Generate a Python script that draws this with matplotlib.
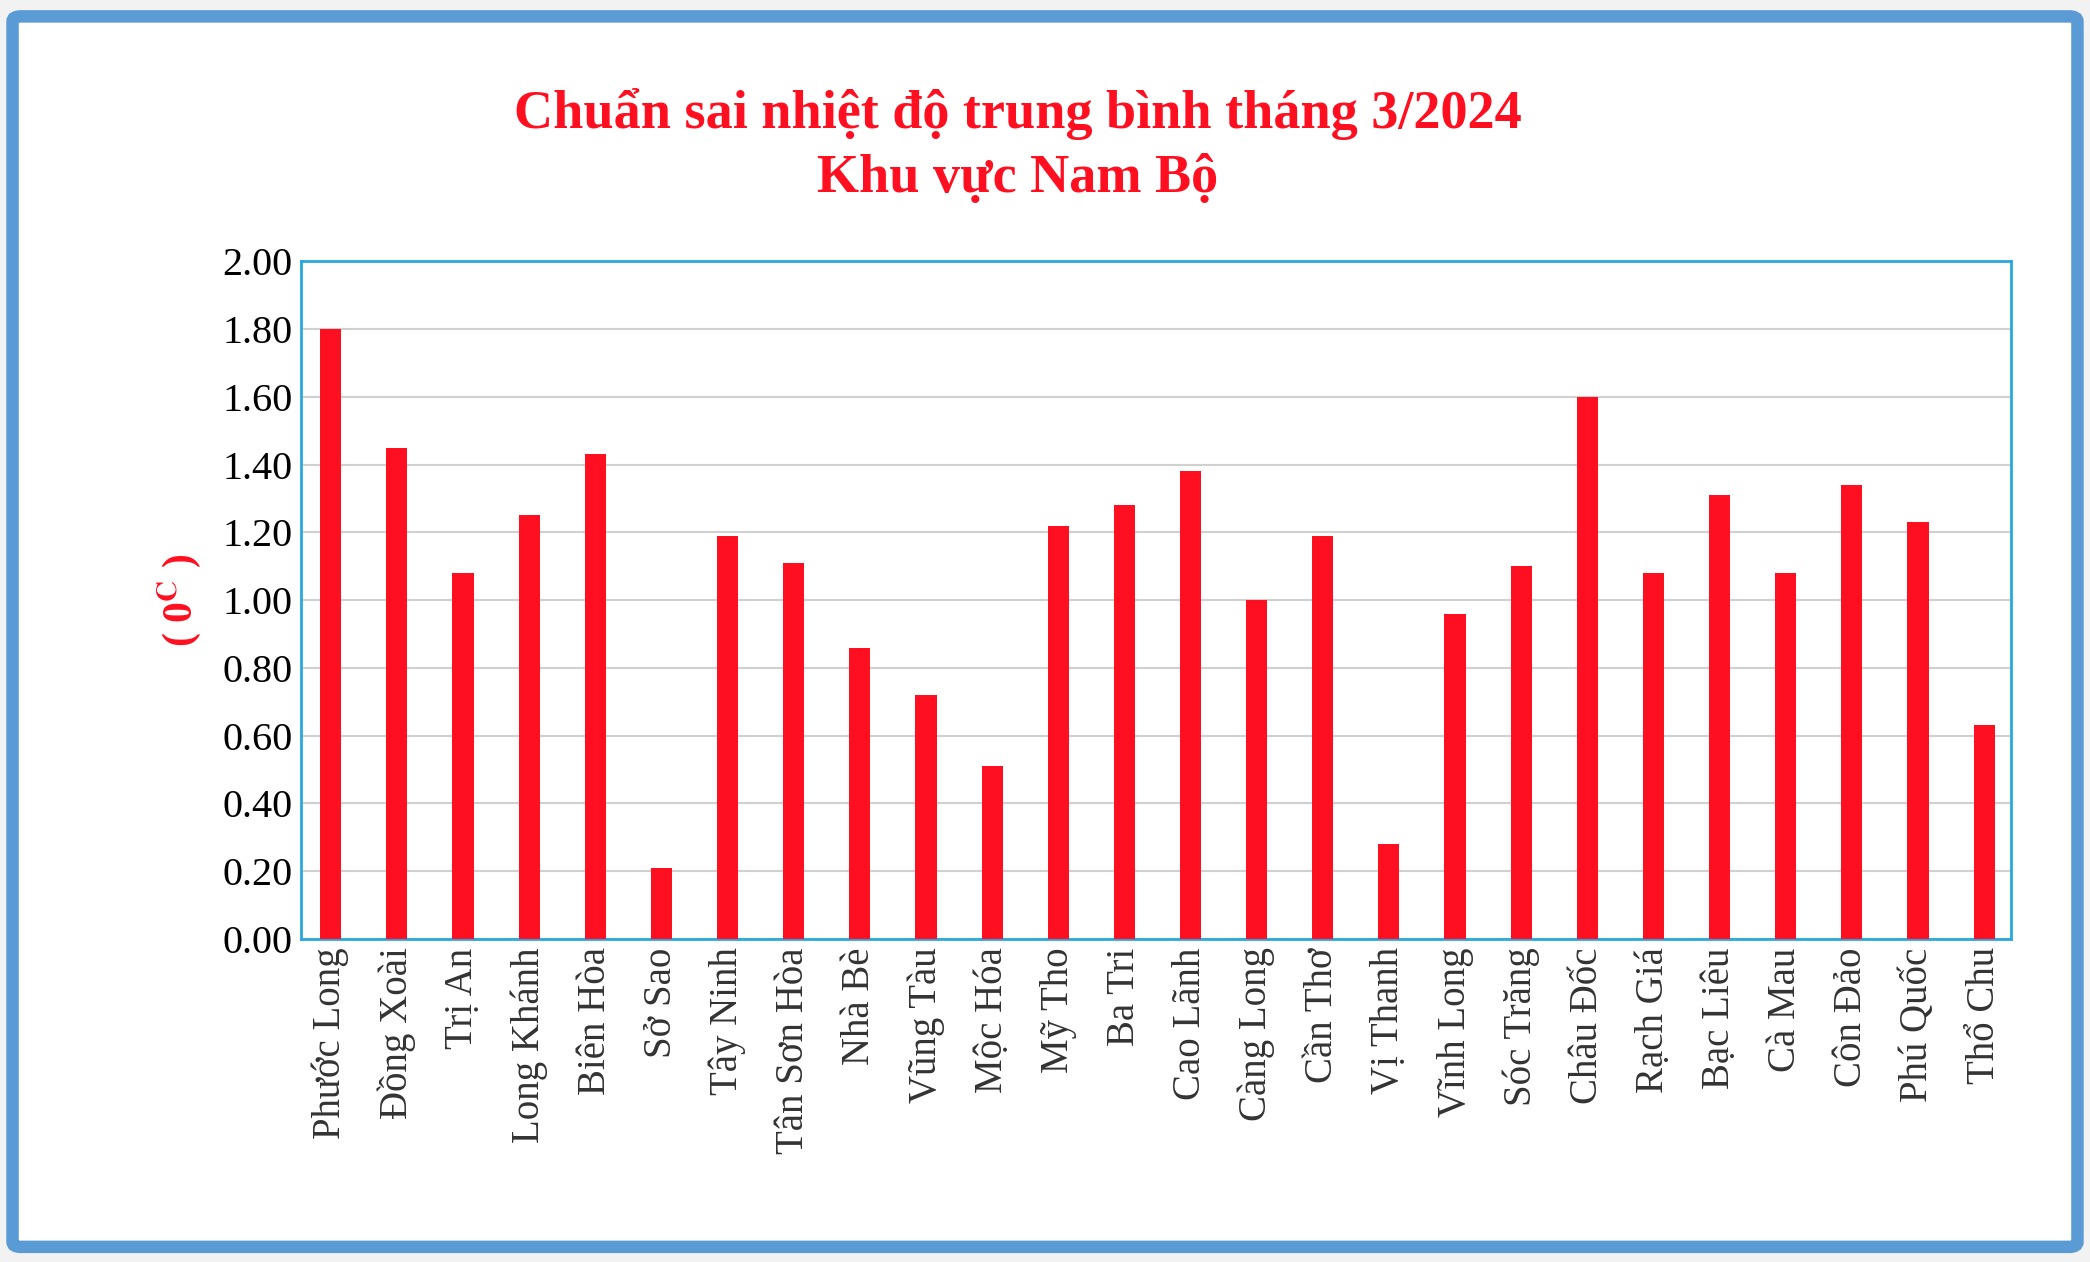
import matplotlib
matplotlib.use("Agg")
import matplotlib.pyplot as plt
from matplotlib.patches import FancyBboxPatch

stations = ["Phước Long","Đồng Xoài","Trị An","Long Khánh","Biên Hòa","Sở Sao","Tây Ninh",
            "Tân Sơn Hòa","Nhà Bè","Vũng Tàu","Mộc Hóa","Mỹ Tho","Ba Tri","Cao Lãnh",
            "Càng Long","Cần Thơ","Vị Thanh","Vĩnh Long","Sóc Trăng","Châu Đốc","Rạch Giá",
            "Bạc Liêu","Cà Mau","Côn Đảo","Phú Quốc","Thổ Chu"]
values = [1.80,1.45,1.08,1.25,1.43,0.21,1.19,1.11,0.86,0.72,0.51,1.22,1.28,1.38,
          1.00,1.19,0.28,0.96,1.10,1.60,1.08,1.31,1.08,1.34,1.23,0.63]
yticks = [0.0,0.2,0.4,0.6,0.8,1.0,1.2,1.4,1.6,1.8,2.0]

plt.rcParams['font.family'] = ['Liberation Serif', 'DejaVu Serif']
plt.rcParams['mathtext.fontset'] = 'stix'

fig = plt.figure(figsize=(20.9, 12.62), dpi=100)
fig.patch.set_facecolor('#f2f2f2')
border = FancyBboxPatch((0.006, 0.012), 0.988, 0.975, boxstyle="round,pad=0,rounding_size=0.004",
                        transform=fig.transFigure, facecolor='white', edgecolor='#5b9bd5',
                        linewidth=9, zorder=-10)
fig.patches.append(border)

ax = fig.add_axes([0.144, 0.256, 0.818, 0.537])
ax.set_zorder(5)
ax.patch.set_facecolor('white')
x = range(len(stations))
ax.bar(x, values, width=0.32, color='#ff0f1f', zorder=3)
ax.set_ylim(0, 2.0)
ax.set_xlim(-0.45, len(stations) - 0.6)
ax.set_yticks(yticks)
ax.set_yticklabels([f"{v:.2f}" for v in yticks], fontsize=29)
ax.set_xticks(list(x))
ax.set_xticklabels(stations, rotation=90, fontsize=28, color='#333333')
ax.tick_params(length=0, pad=6)
ax.grid(axis='y', color='#d0d0d0', linewidth=1.5, zorder=0)
for s in ax.spines.values():
    s.set_color('#29a8e0'); s.set_linewidth(2)
ax.set_ylabel(r'( 0$^{\mathbf{C}}$ )', color='#ff0f1f', fontsize=30, fontweight='bold', labelpad=14)

fig.text(0.487, 0.91, "Chuẩn sai nhiệt độ trung bình tháng 3/2024", ha='center', va='center',
         color='#ff0f1f', fontsize=39, fontweight='bold')
fig.text(0.487, 0.858, "Khu vực Nam Bộ", ha='center', va='center',
         color='#ff0f1f', fontsize=39, fontweight='bold')

fig.savefig('out.png', dpi=100, facecolor=fig.get_facecolor())
